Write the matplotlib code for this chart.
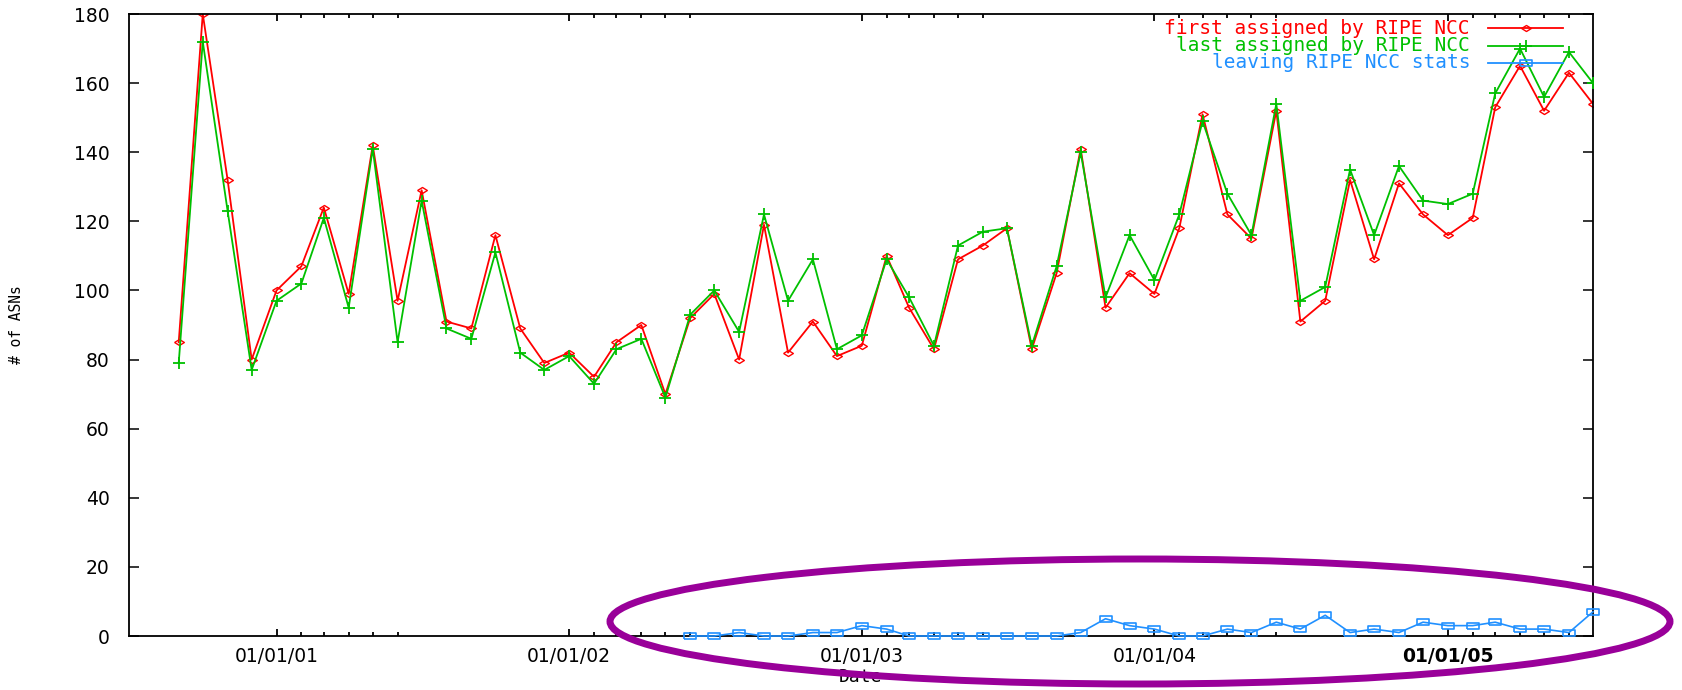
import matplotlib
matplotlib.use("Agg")
import matplotlib.pyplot as plt
from matplotlib.patches import Ellipse
import pandas as pd

# ---------------- data ----------------
months = pd.date_range("2000-09-01", periods=59, freq="MS")

first_assigned = [85, 180, 132, 80, 100, 107, 124, 99, 142, 97,
                  129, 91, 89, 116, 89, 79, 82, 75, 85, 90,
                  70, 92, 99, 80, 119, 82, 91, 81, 84, 110,
                  95, 83, 109, 113, 118, 83, 105, 141, 95, 105,
                  99, 118, 151, 122, 115, 152, 91, 97, 132, 109,
                  131, 122, 116, 121, 153, 165, 152, 163, 154]

last_assigned = [79, 172, 123, 77, 97, 102, 121, 95, 141, 85,
                 126, 89, 86, 111, 82, 77, 81, 73, 83, 86,
                 69, 93, 100, 88, 122, 97, 109, 83, 87, 109,
                 98, 84, 113, 117, 118, 84, 107, 140, 98, 116,
                 103, 122, 149, 128, 116, 154, 97, 101, 135, 116,
                 136, 126, 125, 128, 157, 170, 156, 169, 160]

leaving_start = "2002-06-01"
leaving = [0, 0, 1, 0, 0, 1, 1, 3, 2, 0,
           0, 0, 0, 0, 0, 0, 1, 5, 3, 2,
           0, 0, 2, 1, 4, 2, 6, 1, 2, 1,
           4, 3, 3, 4, 2, 2, 1, 7]
leaving_months = pd.date_range(leaving_start, periods=len(leaving), freq="MS")

series_labels = ["first assigned by RIPE NCC",
                 "last assigned by RIPE NCC",
                 "leaving RIPE NCC stats"]
year_ticks = pd.date_range("2001-01-01", "2005-01-01", freq="YS")
year_labels = ["01/01/01", "01/01/02", "01/01/03", "01/01/04", "01/01/05"]
minor_ticks = [pd.Timestamp(y, m, 1) for y in range(2001, 2006) for m in range(2, 7)]
y_ticks = list(range(0, 181, 20))
x_start, x_end = pd.Timestamp("2000-07-01"), pd.Timestamp("2005-07-01")

# ---------------- style ----------------
RED = "#ff0000"
GREEN = "#00c000"
BLUE = "#2090ff"
PURPLE = "#990099"
MONO = "DejaVu Sans Mono"

diamond = [(-1, 0), (0, 0.62), (1, 0), (0, -0.62), (-1, 0)]
rect = [(-1, -0.6), (1, -0.6), (1, 0.6), (-1, 0.6), (-1, -0.6)]

W, H = 1682, 690
fig = plt.figure(figsize=(W / 100, H / 100), dpi=100)
ax = fig.add_axes([129 / W, 1 - 636 / H, 1464 / W, 622 / H])

ax.plot(months, first_assigned, color=RED, lw=1.3, marker=diamond, ms=7,
        mfc="none", mec=RED, mew=1.0, zorder=2)
ax.plot(months, last_assigned, color=GREEN, lw=1.3, marker="+", ms=8,
        mew=1.3, zorder=3)
ax.plot(leaving_months, leaving, color=BLUE, lw=1.2, marker=rect, ms=8,
        mfc="none", mec=BLUE, mew=1.2, zorder=4, clip_on=False)

ax.set_xlim(x_start, x_end)
ax.set_ylim(0, 180)
ax.set_yticks(y_ticks)
ax.set_xticks(year_ticks)
ax.set_xticklabels(year_labels)
ax.set_xticks(minor_ticks, minor=True)
ax.get_xticklabels()[-1].set_fontweight("bold")

for lab in ax.get_xticklabels() + ax.get_yticklabels():
    lab.set_fontfamily("DejaVu Sans")
    lab.set_fontsize(13.5)

ax.tick_params(which="both", direction="in", top=True, right=True, colors="black")
ax.tick_params(axis="x", which="major", length=5, width=1.3, pad=8)
ax.tick_params(axis="x", which="minor", length=3, width=1.3)
ax.tick_params(axis="y", which="major", length=7.5, width=1.1, pad=14)
for s in ax.spines.values():
    s.set_linewidth(1.3)
    s.set_color("black")

ax.set_ylabel("# of ASNs", fontfamily=MONO, fontsize=10.5)
ax.yaxis.set_label_coords(-0.0717, 0.5)
ax.set_xlabel("Date", fontfamily=MONO, fontsize=13)
ax.xaxis.set_label_coords(0.5, -0.052)

# ---------------- legend (gnuplot style, right-aligned text) ----------------
colors = [RED, GREEN, BLUE]
markers = [dict(marker=diamond, ms=7, mfc="none", mew=1.0),
           dict(marker="+", ms=8, mew=1.3),
           dict(marker=rect, ms=8, mfc="none", mew=1.2)]
rows_y = [0.977, 0.949, 0.922]
tx = (1470 - 129) / 1464
lx0, lx1 = (1488 - 129) / 1464, (1563 - 129) / 1464
for lab, c, mk, yy in zip(series_labels, colors, markers, rows_y):
    ax.text(tx, yy, lab, transform=ax.transAxes, ha="right", va="center",
            color=c, fontfamily=MONO, fontsize=14)
    ax.plot([lx0, (lx0 + lx1) / 2, lx1], [yy, yy, yy], transform=ax.transAxes,
            color=c, lw=1.3, markevery=[1], mec=c, zorder=5, **mk)

# ---------------- purple highlight ellipse ----------------
ell = Ellipse((1140 / W, 1 - 621.5 / H), 1060 / W, 125 / H,
              transform=fig.transFigure, fill=False, edgecolor=PURPLE,
              lw=5, zorder=10)
fig.add_artist(ell)

fig.savefig("out.png", dpi=100)
